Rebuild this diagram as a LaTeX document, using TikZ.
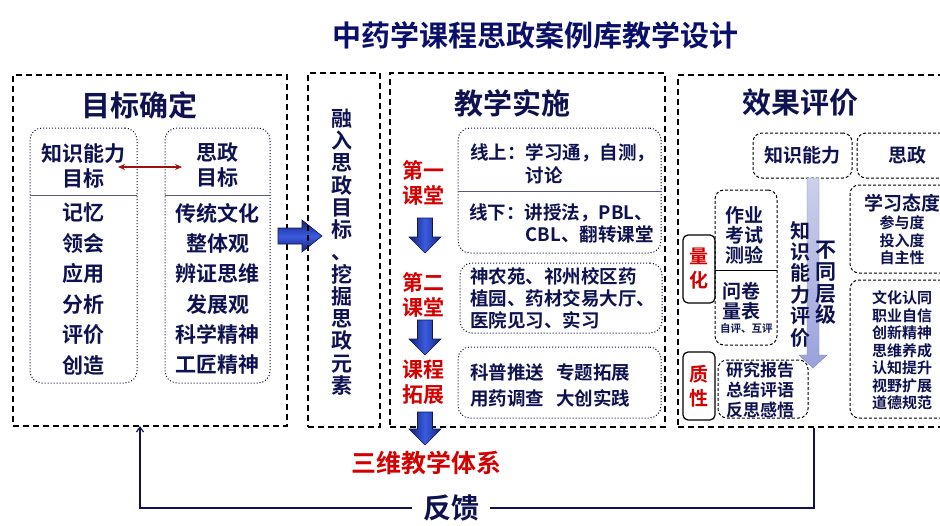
\documentclass[tikz,border=0pt]{standalone}
\usepackage{fontspec}
\setmainfont{Noto Sans CJK SC}[BoldFont={Noto Sans CJK SC Bold}]
\usetikzlibrary{arrows.meta}
\definecolor{tx}{HTML}{0E1250}
\definecolor{ttl}{HTML}{0A0F6A}
\definecolor{rd}{HTML}{D40000}
\definecolor{drd}{HTML}{A01010}
\definecolor{ad}{HTML}{14207A}
\definecolor{al}{HTML}{3A5CE0}
\definecolor{gl}{HTML}{CCD0EA}
\definecolor{gd}{HTML}{9AA2DC}
\newcommand\fsz[2]{\fontsize{#1}{#2}\selectfont}
\newcommand\dnarrow[3]{%
  \path[bluearrow] ({#1-7.5},#2) -- ({#1+7.5},#2) -- ({#1+7.5},{#3-16}) -- ({#1+16},{#3-16})
    -- (#1,#3) -- ({#1-16},{#3-16}) -- ({#1-7.5},{#3-16}) -- cycle;}
\begin{document}
\begin{tikzpicture}[x=1pt,y=-1pt,
  outer/.style={draw=black,line width=1.6pt,dash pattern=on 6pt off 4pt,inner sep=0pt},
  dotbox/.style={draw=tx!80!black,line width=1pt,dotted,rounded corners=12pt,inner sep=0pt},
  dbox/.style={draw=black,line width=1pt,dash pattern=on 3pt off 2pt,rounded corners=9pt,inner sep=0pt},
  sbox/.style={draw=black,line width=1.2pt,rounded corners=5pt,inner sep=0pt},
  hd/.style={font=\bfseries\fsz{29}{32},text=tx,inner sep=0pt},
  item/.style={font=\bfseries\fsz{21}{25},text=tx,inner sep=0pt,align=center},
  sub/.style={font=\bfseries\fsz{18.5}{22},text=tx,inner sep=0pt,anchor=west},
  redl/.style={font=\bfseries\fsz{21}{25},text=rd,inner sep=0pt,align=center},
  ev/.style={font=\bfseries\fsz{19}{20},text=tx,inner sep=0pt,align=center},
  small/.style={font=\bfseries\fsz{15}{17.5},text=tx,inner sep=0pt,align=center},
  bluearrow/.style={draw=ad!70!black,line width=0.6pt,left color=ad,right color=ad,middle color=al},
  fbline/.style={draw=tx,line width=1.2pt}]
\useasboundingbox (0,0) rectangle (940,525);
\clip (0,0) rectangle (940,525);

% title
\node[font=\bfseries\fsz{29}{32},text=ttl,inner sep=0pt] (title) at (535,35) {中药学课程思政案例库教学设计};

% ---------- box 1 ----------
\node[outer,minimum width=274pt,minimum height=351pt] (b1) at (150,250.5) {};
\node[hd] (t1) at (139,105) {目标确定};
\node[dotbox,minimum width=107pt,minimum height=255pt] (k1) at (83.5,255.5) {};
\node[dotbox,minimum width=105pt,minimum height=255pt] (k2) at (217.5,255.5) {};
\draw[tx!70,line width=0.8pt] (30,195) -- (137,195);
\draw[tx!70,line width=0.8pt] (165,195) -- (270,195);
\node[item] (k1h) at (83.5,165.5) {知识能力\\目标};
\node[item] (k2h) at (217.5,165.5) {思政\\目标};
\foreach \t [count=\i] in {记忆,领会,应用,分析,评价,创造}
  \node[item] (L\i) at (83.5,{213+(\i-1)*30.4}) {\t};
\foreach \t [count=\i] in {传统文化,整体观,辨证思维,发展观,科学精神,工匠精神}
  \node[item] (R\i) at (217.5,{213+(\i-1)*30.4}) {\t};
\coordinate (dl) at (118,167);
\coordinate (dr) at (182,167);
\draw[drd,line width=1.1pt,{Stealth[length=7pt,width=6pt]}-{Stealth[length=7pt,width=6pt]}] (dl) -- (dr);

% big right arrow
\path[draw=ad!70!black,line width=0.6pt,top color=ad,bottom color=ad,middle color=al]
  (278,228) -- (302,228) -- (302,220) -- (322,236) -- (302,252) -- (302,244) -- (278,244) -- cycle;

% ---------- box 2 ----------
\node[outer,minimum width=72pt,minimum height=354pt] (b2) at (344,250) {};
\node[font=\bfseries\fsz{21}{22.25},text=tx,inner sep=0pt,align=center] (v2) at (342,252)
  {融\\入\\思\\政\\目\\标\\、\\挖\\掘\\思\\政\\元\\素};

% ---------- box 3 ----------
\node[outer,minimum width=275pt,minimum height=354pt] (b3) at (527.5,250) {};
\node[hd] (t3) at (512,103) {教学实施};
\node[dotbox,minimum width=203pt,minimum height=125pt] (sa) at (559.5,190.5) {};
\draw[tx!70,line width=0.8pt] (458,191) -- (661,191);
\node[dotbox,minimum width=202pt,minimum height=70pt] (sb) at (561,298) {};
\node[dotbox,minimum width=203pt,minimum height=71pt] (sc) at (559.5,382.5) {};
\node[sub] (a1) at (470,153) {线上：学习通，自测，};
\node[sub] (a2) at (525.5,175) {讨论};
\node[sub] (a3) at (469,213) {线下：讲授法，PBL、};
\node[sub] (a4) at (525.5,235) {CBL、翻转课堂};
\node[sub] (b1t) at (470,276) {神农苑、祁州校区药};
\node[sub] (b2t) at (470,298) {植园、药材交易大厅、};
\node[sub] (b3t) at (470,320) {医院见习、实习};
\node[sub] (c1) at (470,372) {科普推送\hspace{12pt}专题拓展};
\node[sub] (c2) at (470,398) {用药调查\hspace{12pt}大创实践};
\node[redl] (r1) at (423,182.5) {第一\\课堂};
\node[redl] (r2) at (423,294.5) {第二\\课堂};
\node[redl] (r3) at (423,382.5) {课程\\拓展};
\dnarrow{425}{218}{253}
\dnarrow{425}{320}{355}
\dnarrow{425}{412}{445}
\node[font=\bfseries\fsz{25}{28},text=rd,inner sep=0pt] (sys) at (426,463) {三维教学体系};

% ---------- box 4 ----------
\node[outer,minimum width=272pt,minimum height=352pt] (b4) at (814,251) {};
\node[hd] (t4) at (800,103) {效果评价};
\node[dbox,minimum width=99pt,minimum height=45pt] (zk) at (802.5,155.5) {};
\node[ev] at (zk) {知识能力};
\node[dbox,minimum width=103pt,minimum height=45pt] (sz) at (908.5,155.5) {};
\node[ev] at (907,155.5) {思政};
% quantitative box
\node[dbox,minimum width=62pt,minimum height=155pt] (q1) at (746,267.5) {};
\draw[black,line width=0.8pt] (715,270) -- (777,270);
\node[ev] (q1t) at (744,235) {作业\\考试\\测验};
\node[ev,anchor=west] (q2t) at (722,301) {问卷\\量表};
\node[font=\bfseries\fsz{10.5}{12},text=tx,inner sep=0pt,anchor=west] (q3t) at (720,328) {自评、互评};
\node[sbox,minimum width=32pt,minimum height=68pt] (lh) at (699,269) {};
\node[font=\bfseries\fsz{19}{24},text=rd,inner sep=0pt,align=center] at (lh) {量\\化};
\node[sbox,minimum width=32pt,minimum height=68pt] (zx) at (699,386) {};
\node[font=\bfseries\fsz{19}{24},text=rd,inner sep=0pt,align=center] at (zx) {质\\性};
\node[dbox,minimum width=90pt,minimum height=58pt] (yj) at (763,389) {};
\node[font=\bfseries\fsz{17}{20},text=tx,inner sep=0pt,align=center] (yjt) at (760,390) {研究报告\\总结评语\\反思感悟};
% gradient arrow
\path[draw=gd!80!black,line width=0.4pt,top color=gl,bottom color=gd]
  (807,178) -- (819,178) -- (819,355) -- (827,355) -- (813,368) -- (799,355) -- (807,355) -- cycle;
\node[font=\bfseries\fsz{20}{21.4},text=tx,inner sep=0pt,align=center] (v41) at (800,284)
  {知\\识\\能\\力\\评\\价};
\node[font=\bfseries\fsz{21}{21.7},text=tx,inner sep=0pt,align=center] (v42) at (826,283)
  {不\\同\\层\\级};
% right boxes
\node[dbox,minimum width=110pt,minimum height=88pt] (xt) at (905,229) {};
\node[ev] (xtt) at (902,203) {学习态度};
\node[small] (xts) at (902,240.5) {参与度\\投入度\\自主性};
\node[dbox,minimum width=110pt,minimum height=138pt] (wh) at (905,349) {};
\node[small] (wht) at (902,350.5) {文化认同\\职业自信\\创新精神\\思维养成\\认知提升\\视野扩展\\道德规范};

% ---------- feedback ----------
\node[font=\bfseries\fsz{28}{30},text=tx,inner ysep=0pt,inner xsep=11pt] (fb) at (451,508) {反馈};
\coordinate (fbin) at (140,426);
\draw[fbline] (b4.south) |- (fb.east);
\draw[fbline,-{Straight Barb[length=5pt,width=7pt]}] (fb.west) -| (fbin);
\end{tikzpicture}
\end{document}
